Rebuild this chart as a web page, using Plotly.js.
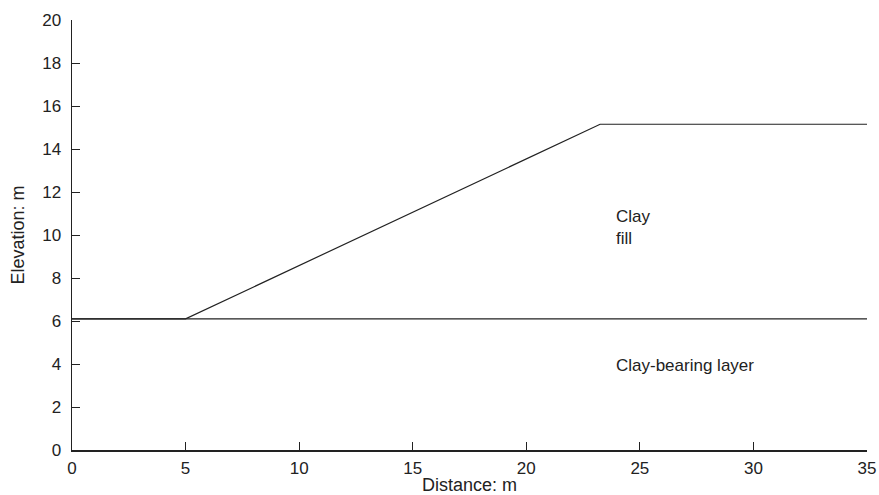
<!DOCTYPE html>
<html><head><meta charset="utf-8">
<script src="https://cdn.plot.ly/plotly-3.0.1.min.js"></script>
<style>html,body{margin:0;padding:0;background:#fff}#chart{width:879px;height:495px}</style>
</head><body><div id="chart"></div>
<script>
// Ground surface (clay-bearing layer top)
const groundX = [0, 35];
const groundY = [6.1, 6.1];
// Embankment profile (clay fill)
const fillX = [0, 5, 23.25, 35];
const fillY = [6.1, 6.1, 15.15, 15.15];
const xTicks = [0, 5, 10, 15, 20, 25, 30, 35];
const yTicks = [0, 2, 4, 6, 8, 10, 12, 14, 16, 18, 20];

const lineStyle = {color: '#222', width: 1.2};
const data = [
  {x: groundX, y: groundY, mode: 'lines', line: lineStyle, hoverinfo: 'skip'},
  {x: fillX, y: fillY, mode: 'lines', line: lineStyle, hoverinfo: 'skip'}
];
const font = {family: 'Liberation Sans, Arial, sans-serif', size: 17, color: '#222'};
const tfont = {family: 'Liberation Sans, Arial, sans-serif', size: 18, color: '#222'};
const layout = {
  width: 879, height: 495,
  margin: {l: 72, r: 12, t: 20, b: 45},
  showlegend: false,
  paper_bgcolor: '#fff', plot_bgcolor: '#fff',
  font: font,
  xaxis: {
    range: [0, 35], tickvals: xTicks, ticks: 'inside', ticklen: 8, tickcolor: '#222',
    showline: true, linecolor: '#222', linewidth: 1.5, showgrid: false, zeroline: false,
    tickfont: font, ticklabelstandoff: 2,
    title: {text: 'Distance: m', font: tfont, standoff: 7}, automargin: false
  },
  yaxis: {
    range: [0, 20], tickvals: yTicks, ticks: 'inside', ticklen: 8, tickcolor: '#222',
    showline: true, linecolor: '#222', linewidth: 1.5, showgrid: false, zeroline: false,
    tickfont: font, ticklabelstandoff: 6,
    title: {text: 'Elevation: m', font: tfont, standoff: 13}, automargin: false
  },
  annotations: [
    {x: 23.87, y: 10.37, text: 'Clay<br>fill', showarrow: false, xanchor: 'left', align: 'left', font: font},
    {x: 23.87, y: 3.95, text: 'Clay-bearing layer', showarrow: false, xanchor: 'left', align: 'left', font: font}
  ]
};
Plotly.newPlot('chart', data, layout, {displayModeBar: false, staticPlot: true});
</script></body></html>
